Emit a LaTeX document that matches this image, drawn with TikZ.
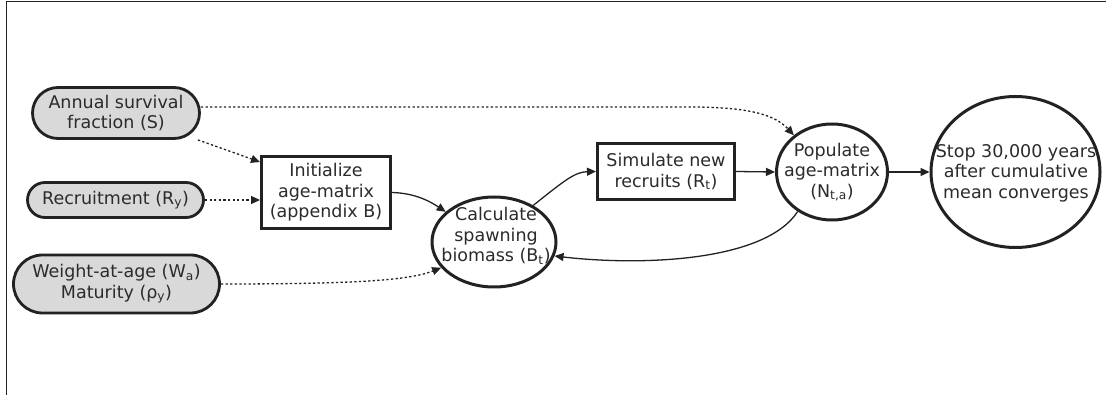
\documentclass[tikz,border=0pt]{standalone}
\usepackage{fontspec}
\setmainfont{DejaVu Sans}
\usetikzlibrary{shapes.geometric,arrows.meta}
\definecolor{ink}{HTML}{222222}
\definecolor{txt}{HTML}{2B2B2B}
\definecolor{pillfill}{HTML}{D9D9D9}
\newcommand{\sbs}[1]{\textsubscript{#1}}
\begin{document}
\begin{tikzpicture}[x=1pt,y=-1pt,
  every node/.style={font=\fontsize{17.5}{20.5}\selectfont, text=txt, align=center, inner sep=0pt},
  pill/.style={draw=ink, line width=2.8pt, fill=pillfill, rectangle},
  boxnode/.style={draw=ink, line width=3pt, rectangle, fill=white},
  ell/.style={draw=ink, line width=3pt, ellipse, fill=white},
  flow/.style={draw=ink, line width=1.3pt, -{Triangle[length=9pt,width=8pt]}},
  inflow/.style={flow, dash pattern=on 2.3pt off 2.3pt},
]
\useasboundingbox (0,0) rectangle (1106,395);
\draw[ink, line width=1.6pt] (6.5,395) -- (6.5,1.5) -- (1106,1.5);

\node[pill, minimum width=167pt, minimum height=51pt, rounded corners=25.5pt] (ann) at (116,113) {Annual survival\\fraction (S)};
\node[pill, minimum width=176pt, minimum height=35pt, rounded corners=17.5pt] (rec) at (115.5,200) {Recruitment (R\sbs{y})};
\node[pill, minimum width=206pt, minimum height=58pt, rounded corners=29pt] (wt) at (116.5,284) {Weight-at-age (W\sbs{a})\\Maturity (ρ\sbs{y})};

\node[boxnode, minimum width=129pt, minimum height=72pt] (init) at (326,192.5) {Initialize\\age-matrix\\(appendix B)};
\node[ell, minimum width=124pt, minimum height=90pt] (calc) at (494,242) {};
\node (calct) at (496,236) {Calculate\\spawning\\biomass (B\sbs{t})};
\node[boxnode, minimum width=137pt, minimum height=56pt] (sim) at (666,171.5) {Simulate new\\recruits (R\sbs{t})};
\node[ell, minimum width=111pt, minimum height=96pt] (pop) at (832,172) {};
\node (popt) at (832,172) {Populate\\age-matrix\\(N\sbs{t,a})};
\node[ell, minimum width=169pt, minimum height=151pt] (stop) at (1015.5,172) {};
\node (stopt) at (1016,173) {Stop 30,000 years\\after cumulative\\mean converges};

% dotted inputs
\draw[inflow] ([yshift=6pt]ann.east) -- (690,107) .. controls (750,107) and (775,115) .. (pop.136);
\draw[inflow] ([xshift=-3pt]ann.south east) -- ([yshift=-7pt]init.north west);
\draw[inflow] (rec.east) -- (rec.east -| init.west);
\draw[inflow] (wt.east) .. controls (360,284) and (410,280) .. (calc.206);

% solid flow
\draw[flow] (init.east) .. controls (410,193) and (425,198) .. (calc.148);
\draw[flow] (calc.43) .. controls (565,180) and (575,172) .. (sim.west);
\draw[flow] (sim.east) -- (pop.west);
\draw[flow] (pop.229) .. controls (765,262) and (640,266) .. (calc.347);
\draw[flow] (pop.east) -- (stop.west);
\end{tikzpicture}
\end{document}
